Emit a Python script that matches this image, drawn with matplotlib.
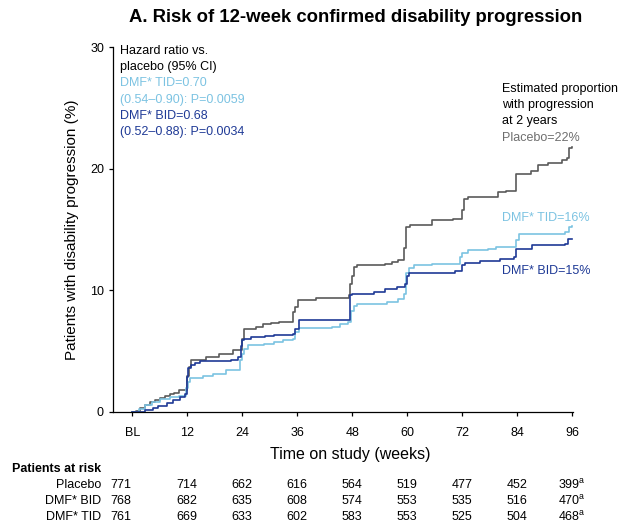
import matplotlib
matplotlib.use("Agg")
import matplotlib.pyplot as plt
from matplotlib.transforms import blended_transform_factory

plt.rcParams['font.family'] = ['Liberation Sans', 'DejaVu Sans']

################################################################################
# Kaplan-Meier style curves (weeks, % progressed)
placebo_wk  = [0, 0.8, 1.7, 2.8, 3.9, 5.0, 6.1, 7.2, 8.2, 9.2, 10.1, 11.9, 12.3,
               12.9, 16.1, 18.9, 22.0, 24.0, 24.3, 27.0, 28.5, 30.3, 32.1, 35.0,
               35.6, 36.1, 40.1, 47.3, 47.6, 48.0, 48.4, 49.1, 55.2, 56.7, 58.1,
               59.4, 59.8, 60.7, 65.4, 70.1, 71.9, 72.4, 73.3, 79.8, 81.6, 83.8,
               87.0, 88.5, 90.7, 93.9, 94.9, 95.4, 96.0]
placebo_pct = [0, 0.1, 0.3, 0.6, 0.8, 1.0, 1.15, 1.3, 1.45, 1.55, 1.8, 3.0, 3.7,
               4.3, 4.5, 4.75, 5.1, 6.0, 6.8, 7.0, 7.2, 7.3, 7.4, 8.2,
               8.6, 9.2, 9.4, 9.6, 10.5, 11.2, 11.9, 12.05, 12.2, 12.3, 12.5,
               13.5, 15.2, 15.4, 15.8, 15.9, 16.6, 17.5, 17.65, 18.05, 18.2, 19.6,
               19.8, 20.3, 20.5, 20.7, 20.9, 21.7, 21.8]

tid_wk  = [0, 1.4, 2.8, 4.3, 6.1, 8.2, 10.2, 11.8, 12.2, 12.6, 15.5, 17.6, 20.5,
           23.6, 23.9, 24.5, 25.2, 28.8, 31.0, 33.0, 35.0, 35.5, 36.4, 43.6, 45.4,
           47.1, 47.7, 48.5, 49.1, 55.6, 58.1, 59.3, 59.7, 60.3, 61.4, 65.4, 71.5,
           71.9, 73.3, 77.6, 79.4, 83.8, 84.5, 91.8, 94.4, 95.4, 96.0]
tid_pct = [0, 0.22, 0.57, 0.85, 1.04, 1.2, 1.3, 2.0, 2.5, 2.76, 2.95, 3.1, 3.44,
           4.3, 4.8, 5.2, 5.5, 5.6, 5.76, 5.9, 6.04, 6.6, 6.9, 7.0, 7.27,
           7.4, 8.3, 8.7, 8.9, 9.04, 9.3, 9.7, 11.4, 11.8, 12.05, 12.2, 12.7,
           13.06, 13.3, 13.4, 13.55, 14.1, 14.6, 14.65, 14.8, 15.2, 15.3]

bid_wk  = [0, 2.8, 4.6, 5.7, 7.5, 9.0, 10.4, 11.5, 11.9, 12.2, 12.9, 13.7, 14.7,
           21.6, 23.1, 23.7, 24.0, 24.5, 25.9, 29.0, 31.0, 35.0, 35.5, 36.3, 47.6,
           48.0, 52.7, 55.2, 57.7, 59.6, 60.0, 60.4, 70.4, 71.9, 72.6, 75.8, 80.2,
           83.4, 83.8, 87.3, 94.4, 95.1, 96.0]
bid_pct = [0, 0.2, 0.35, 0.5, 0.71, 0.98, 1.25, 1.5, 2.9, 3.6, 3.85, 4.04, 4.2,
           4.3, 4.53, 5.4, 5.9, 6.04, 6.2, 6.25, 6.3, 6.45, 6.86, 7.54, 9.6,
           9.7, 9.86, 10.1, 10.27, 10.5, 11.2, 11.4, 11.6, 12.05, 12.24, 12.4, 12.6,
           12.7, 13.4, 13.7, 13.8, 14.2, 14.2]

tick_weeks  = [0, 12, 24, 36, 48, 60, 72, 84, 96]
tick_labels = ["BL", "12", "24", "36", "48", "60", "72", "84", "96"]

risk_groups  = ["Placebo", "DMF* BID", "DMF* TID"]
risk_placebo = ["771", "714", "662", "616", "564", "519", "477", "452", "399$^{\\mathregular{a}}$"]
risk_bid     = ["768", "682", "635", "608", "574", "553", "535", "516", "470$^{\\mathregular{a}}$"]
risk_tid     = ["761", "669", "633", "602", "583", "553", "525", "504", "468$^{\\mathregular{a}}$"]

################################################################################
c_pla = "#5a5a5a"
c_tid = "#7cc3e2"
c_bid = "#1f3a96"

W, H = 632, 523
fig = plt.figure(figsize=(W / 100, H / 100), dpi=100)
def fx(px): return px / W
def fy(py): return 1 - py / H

ax = fig.add_axes([fx(113), fy(412), fx(573) - fx(113), fy(47) - fy(412)])
ax.step(placebo_wk, placebo_pct, where="post", color=c_pla, lw=1.2)
ax.step(tid_wk, tid_pct, where="post", color=c_tid, lw=1.2)
ax.step(bid_wk, bid_pct, where="post", color=c_bid, lw=1.2)

ax.set_xlim(-4.2, 96.2)
ax.set_ylim(0, 30)
ax.set_xticks(tick_weeks)
ax.set_xticklabels(tick_labels)
ax.set_yticks([0, 10, 20, 30])
for s in ["top", "right"]:
    ax.spines[s].set_visible(False)
for s in ["left", "bottom"]:
    ax.spines[s].set_linewidth(0.9)
ax.tick_params(axis="both", labelsize=9, length=3, width=0.9, direction="out")
ax.tick_params(axis="x", pad=8)
ax.set_xlabel("Time on study (weeks)", fontsize=11.5, labelpad=4)
ax.xaxis.set_label_coords((350 - 113) / (573 - 113), -0.095)
ax.set_ylabel("Patients with disability progression (%)", fontsize=11, labelpad=8)

fig.text(fx(356), fy(18), "A. Risk of 12-week confirmed disability progression",
         ha="center", va="center", fontsize=13.3, fontweight="bold")

# hazard ratio box
hr_lines = [("Hazard ratio vs.", "black"), ("placebo (95% CI)", "black"),
            ("DMF* TID=0.70", c_tid), ("(0.54\u20130.90): P=0.0059", c_tid),
            ("DMF* BID=0.68", c_bid), ("(0.52\u20130.88): P=0.0034", c_bid)]
for i, (t, c) in enumerate(hr_lines):
    fig.text(fx(120), fy(51 + i * 16.2), t, color=c, fontsize=9, va="center")

# estimated proportions
for i, t in enumerate(["Estimated proportion", "with progression", "at 2 years"]):
    fig.text(fx(502), fy(89 + i * 16), t, color="black", fontsize=9, va="center")
fig.text(fx(502), fy(138), "Placebo=22%", color="#6e6e6e", fontsize=9, va="center")
fig.text(fx(502), fy(218), "DMF* TID=16%", color=c_tid, fontsize=9, va="center")
fig.text(fx(502), fy(271), "DMF* BID=15%", color=c_bid, fontsize=9, va="center")

# patients at risk table
fig.text(fx(12), fy(469), "Patients at risk", fontsize=9, fontweight="bold", va="center")
trans = blended_transform_factory(ax.transData, fig.transFigure)
for r, (grp, row) in enumerate(zip(risk_groups, [risk_placebo, risk_bid, risk_tid])):
    yy = fy(485 + r * 16)
    fig.text(fx(101), yy, grp, fontsize=9, ha="right", va="center")
    for j, (wk, v) in enumerate(zip(tick_weeks, row)):
        xpos = wk - 2.5 if j == 0 else wk
        fig.text(xpos, yy, v, fontsize=9, ha="center", va="center", transform=trans)

fig.savefig("out.png", dpi=100)
